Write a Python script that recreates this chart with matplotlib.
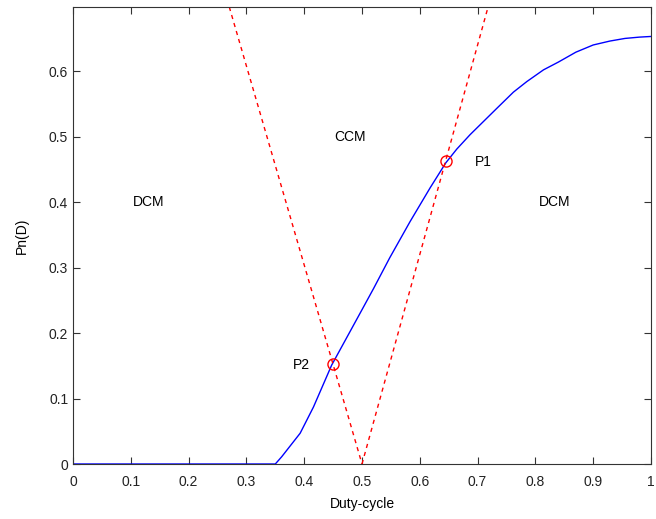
import numpy as np
import matplotlib.pyplot as plt

plt.rcParams['font.family'] = ['Liberation Sans', 'DejaVu Sans']

# Normalised power curve vs duty cycle
duty = [0.0, 0.35, 0.361, 0.393, 0.416, 0.4475, 0.4965, 0.52, 0.548, 0.583,
        0.618, 0.645, 0.664, 0.687, 0.733, 0.762, 0.785, 0.814, 0.84,
        0.87, 0.9, 0.929, 0.955, 0.98, 1.0]
pn = [0.0, 0.0, 0.011, 0.047, 0.087, 0.151, 0.23, 0.268, 0.315, 0.37,
      0.422, 0.46, 0.481, 0.503, 0.543, 0.568, 0.584, 0.602, 0.614,
      0.629, 0.64, 0.646, 0.650, 0.652, 0.653]

# CCM/DCM boundary lines
bound_left_x = [0.25, 0.5]
bound_left_y = [0.76, 0.0]
bound_right_x = [0.5, 0.75]
bound_right_y = [0.0, 0.8]

# Intersection points
pts_x = [0.645, 0.45]
pts_y = [0.463, 0.152]
pts_lbl = ['P1', 'P2']

fig = plt.figure(figsize=(6.56, 5.19), dpi=100)
ax = fig.add_axes([73/656, 1-464/519, 578/656, 457/519])

ax.plot(duty, pn, color='#0000ff', lw=1)
ax.plot(bound_left_x, bound_left_y, 'r--', lw=1, dashes=(3, 3))
ax.plot(bound_right_x, bound_right_y, 'r--', lw=1, dashes=(3, 3))
ax.plot(pts_x, pts_y, 'o', mfc='none', mec='r', ms=8, mew=1)

ax.text(0.695, 0.462, pts_lbl[0], fontsize=10, va='center', ha='left')
ax.text(0.41, 0.151, pts_lbl[1], fontsize=10, va='center', ha='right')
ax.text(0.13, 0.4, 'DCM', fontsize=10, ha='center', va='center')
ax.text(0.48, 0.5, 'CCM', fontsize=10, ha='center', va='center')
ax.text(0.834, 0.4, 'DCM', fontsize=10, ha='center', va='center')

ax.set_xlim(0, 1)
ax.set_ylim(0, 0.698)
ax.set_xticks(np.arange(0, 1.01, 0.1))
ax.set_xticklabels(['0', '0.1', '0.2', '0.3', '0.4', '0.5', '0.6', '0.7', '0.8', '0.9', '1'])
ax.set_yticks(np.arange(0, 0.61, 0.1))
ax.set_yticklabels(['0', '0.1', '0.2', '0.3', '0.4', '0.5', '0.6'])
ax.tick_params(direction='in', top=True, right=True, length=5, labelsize=10, colors='#333333')
ax.tick_params(axis='x', pad=8)
ax.tick_params(labelcolor='#222222')
for s in ax.spines.values():
    s.set_color('#333333')
ax.set_xlabel('Duty-cycle', fontsize=10, labelpad=6)
ax.set_ylabel('Pn(D)', fontsize=10, labelpad=14)

fig.savefig('out.png', dpi=100)
